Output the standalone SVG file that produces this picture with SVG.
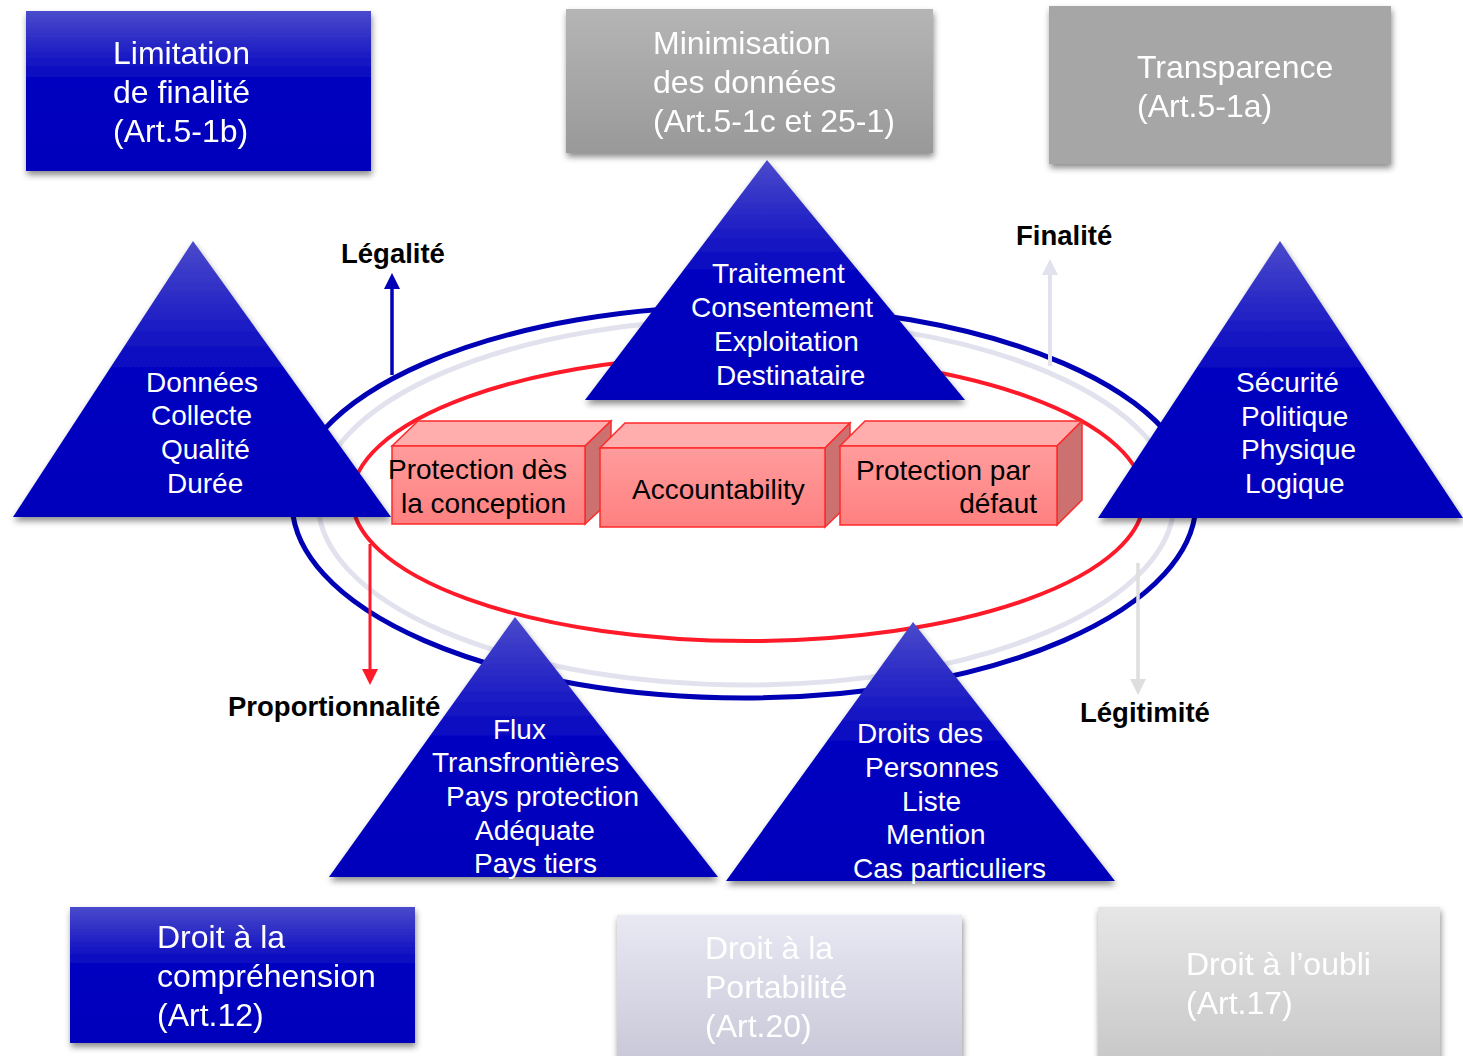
<svg xmlns="http://www.w3.org/2000/svg" width="1463" height="1056" viewBox="0 0 1463 1056">
<defs>
<style>
.t{font-family:"Liberation Sans",Arial,sans-serif;}
.tw{font-family:"Liberation Sans",Arial,sans-serif;font-size:28px;fill:#ffffff;}
.tb{font-family:"Liberation Sans",Arial,sans-serif;font-size:32px;fill:#ffffff;}
.tk{font-family:"Liberation Sans",Arial,sans-serif;font-size:28px;fill:#000000;}
.lab{font-family:"Liberation Sans",Arial,sans-serif;font-size:27.5px;font-weight:bold;fill:#000000;}
.front{fill:url(#gFront);stroke:#ff2a2a;stroke-width:1.5;}
.top{fill:#ffadad;stroke:#ff2a2a;stroke-width:1.5;}
.side{fill:#cc7070;stroke:#ff2a2a;stroke-width:1.5;}
</style>
<linearGradient id="gBlue" x1="0" y1="0" x2="0" y2="1">
<stop offset="0" stop-color="#4a4acb"/>
<stop offset="0.45" stop-color="#0000c0"/>
<stop offset="1" stop-color="#0000bb"/>
</linearGradient>
<linearGradient id="gTri" x1="0" y1="0" x2="0" y2="1">
<stop offset="0" stop-color="#4a4acb"/>
<stop offset="0.5" stop-color="#0000c0"/>
<stop offset="1" stop-color="#0000bb"/>
</linearGradient>
<linearGradient id="gGray" x1="0" y1="0" x2="0" y2="1">
<stop offset="0" stop-color="#b5b5b5"/>
<stop offset="1" stop-color="#999999"/>
</linearGradient>
<linearGradient id="gLav" x1="0" y1="0" x2="0" y2="1">
<stop offset="0" stop-color="#e9e9f4"/>
<stop offset="1" stop-color="#c8c8d8"/>
</linearGradient>
<linearGradient id="gLgray" x1="0" y1="0" x2="0" y2="1">
<stop offset="0" stop-color="#e6e6e6"/>
<stop offset="1" stop-color="#c8c8c8"/>
</linearGradient>
<linearGradient id="gFront" x1="0" y1="0" x2="0" y2="1">
<stop offset="0" stop-color="#ff9c9c"/>
<stop offset="1" stop-color="#ff8080"/>
</linearGradient>
<filter id="sh" x="-10%" y="-10%" width="125%" height="130%">
<feDropShadow dx="1" dy="4" stdDeviation="3" flood-color="#000" flood-opacity="0.45"/>
</filter>
<marker id="aBlue" markerWidth="16" markerHeight="16" refX="0" refY="5" orient="auto" markerUnits="userSpaceOnUse" viewBox="0 0 10 10"><path d="M0,0 L10,5 L0,10 z" fill="#0000b4"/></marker>
<marker id="aRed" markerWidth="16" markerHeight="16" refX="0" refY="5" orient="auto" markerUnits="userSpaceOnUse" viewBox="0 0 10 10"><path d="M0,0 L10,5 L0,10 z" fill="#ff1a2a"/></marker>
<marker id="aLav" markerWidth="16" markerHeight="16" refX="0" refY="5" orient="auto" markerUnits="userSpaceOnUse" viewBox="0 0 10 10"><path d="M0,0 L10,5 L0,10 z" fill="#e2e2ee"/></marker>
<marker id="aGray" markerWidth="16" markerHeight="16" refX="0" refY="5" orient="auto" markerUnits="userSpaceOnUse" viewBox="0 0 10 10"><path d="M0,0 L10,5 L0,10 z" fill="#dedede"/></marker>
</defs>
<rect width="1463" height="1056" fill="#ffffff"/>

<g id="rings">
<ellipse cx="744" cy="502" rx="452" ry="196" fill="none" stroke="#0000b4" stroke-width="5"/>
<ellipse cx="746" cy="502" rx="428" ry="183" fill="none" stroke="#e2e2ee" stroke-width="5"/>
<ellipse cx="748" cy="498" rx="396" ry="143" fill="none" stroke="#ff1a2a" stroke-width="4"/>
</g>

<g id="connectors">
<line x1="392" y1="375" x2="392" y2="289" stroke="#0000b4" stroke-width="3.5" marker-end="url(#aBlue)"/>
<line x1="1050" y1="366" x2="1050" y2="275" stroke="#e2e2ee" stroke-width="4" marker-end="url(#aLav)"/>
<line x1="370" y1="544" x2="370" y2="669" stroke="#ff1a2a" stroke-width="3" marker-end="url(#aRed)"/>
<line x1="1138" y1="563" x2="1138" y2="679" stroke="#dedede" stroke-width="3.5" marker-end="url(#aGray)"/>
</g>

<g id="labels">
<text class="lab" x="341" y="263">Légalité</text>
<text class="lab" x="1016" y="245">Finalité</text>
<text class="lab" x="228" y="716">Proportionnalité</text>
<text class="lab" x="1080" y="722">Légitimité</text>
</g>

<g id="box-limitation" filter="url(#sh)">
<rect x="26" y="11" width="345" height="160" fill="url(#gBlue)"/>
<text class="tb" x="113" y="64">Limitation</text>
<text class="tb" x="113" y="103">de finalité</text>
<text class="tb" x="113" y="142">(Art.5-1b)</text>
</g>
<g id="box-minimisation" filter="url(#sh)">
<rect x="566" y="9" width="367" height="144" fill="url(#gGray)"/>
<text class="tb" x="653" y="54" fill="#f4f4f4">Minimisation</text>
<text class="tb" x="653" y="93" fill="#f4f4f4">des données</text>
<text class="tb" x="653" y="132" fill="#f4f4f4">(Art.5-1c et 25-1)</text>
</g>
<g id="box-transparence" filter="url(#sh)">
<rect x="1049" y="6" width="342" height="158" fill="#a6a6a6"/>
<text class="tb" x="1137" y="78" fill="#f4f4f4">Transparence</text>
<text class="tb" x="1137" y="117" fill="#f4f4f4">(Art.5-1a)</text>
</g>

<g id="box-comprehension" filter="url(#sh)">
<rect x="70" y="907" width="345" height="136" fill="url(#gBlue)"/>
<text class="tb" x="157" y="948">Droit à la</text>
<text class="tb" x="157" y="987">compréhension</text>
<text class="tb" x="157" y="1026">(Art.12)</text>
</g>
<g id="box-portabilite" filter="url(#sh)">
<rect x="617" y="915" width="345" height="145" fill="url(#gLav)"/>
<text class="tb" x="705" y="959">Droit à la</text>
<text class="tb" x="705" y="998">Portabilité</text>
<text class="tb" x="705" y="1037">(Art.20)</text>
</g>
<g id="box-oubli" filter="url(#sh)">
<rect x="1098" y="907" width="342" height="155" fill="url(#gLgray)"/>
<text class="tb" x="1186" y="975">Droit à l’oubli</text>
<text class="tb" x="1186" y="1014">(Art.17)</text>
</g>

<g id="tri-donnees">
<polygon points="193,241 391,517 13,517" fill="url(#gTri)" filter="url(#sh)"/>
<text class="tw" x="146" y="392">Données</text>
<text class="tw" x="151" y="425">Collecte</text>
<text class="tw" x="161" y="459">Qualité</text>
<text class="tw" x="167" y="493">Durée</text>
</g>
<g id="tri-traitement">
<polygon points="767,160 965,400 585,400" fill="url(#gTri)" filter="url(#sh)"/>
<text class="tw" x="712" y="283">Traitement</text>
<text class="tw" x="691" y="317">Consentement</text>
<text class="tw" x="714" y="351">Exploitation</text>
<text class="tw" x="716" y="385">Destinataire</text>
</g>
<g id="tri-securite">
<polygon points="1280,241 1463,518 1098,518" fill="url(#gTri)" filter="url(#sh)"/>
<text class="tw" x="1236" y="392">Sécurité</text>
<text class="tw" x="1241" y="426">Politique</text>
<text class="tw" x="1241" y="459">Physique</text>
<text class="tw" x="1245" y="493">Logique</text>
</g>
<g id="tri-flux">
<polygon points="515,617 718,877 329,877" fill="url(#gTri)" filter="url(#sh)"/>
<text class="tw" x="493" y="739">Flux</text>
<text class="tw" x="432" y="772">Transfrontières</text>
<text class="tw" x="446" y="806">Pays protection</text>
<text class="tw" x="475" y="840">Adéquate</text>
<text class="tw" x="474" y="873">Pays tiers</text>
</g>
<g id="tri-droits">
<polygon points="913,622 1115,881 726,881" fill="url(#gTri)" filter="url(#sh)"/>
<text class="tw" x="857" y="743">Droits des</text>
<text class="tw" x="865" y="777">Personnes</text>
<text class="tw" x="902" y="811">Liste</text>
<text class="tw" x="886" y="844">Mention</text>
<text class="tw" x="853" y="878">Cas particuliers</text>
</g>

<g id="cube-conception">
<polygon class="top" points="392,446 585,446 611,421 418,421"/>
<polygon class="side" points="585,446 611,421 611,500 585,524"/>
<rect class="front" x="392" y="446" width="193" height="78"/>
<text class="tk" x="388" y="479">Protection dès</text>
<text class="tk" x="401" y="513">la conception</text>
</g>
<g id="cube-accountability">
<polygon class="top" points="600,448 825,448 850,423 625,423"/>
<polygon class="side" points="825,448 850,423 850,503 825,527"/>
<rect class="front" x="600" y="448" width="225" height="79"/>
<text class="tk" x="632" y="499">Accountability</text>
</g>
<g id="cube-defaut">
<polygon class="top" points="840,446 1057,446 1082,421 865,421"/>
<polygon class="side" points="1057,446 1082,421 1082,500 1057,525"/>
<rect class="front" x="840" y="446" width="217" height="79"/>
<text class="tk" x="856" y="480">Protection par</text>
<text class="tk" x="1037" y="513" text-anchor="end">défaut</text>
</g>
</svg>
